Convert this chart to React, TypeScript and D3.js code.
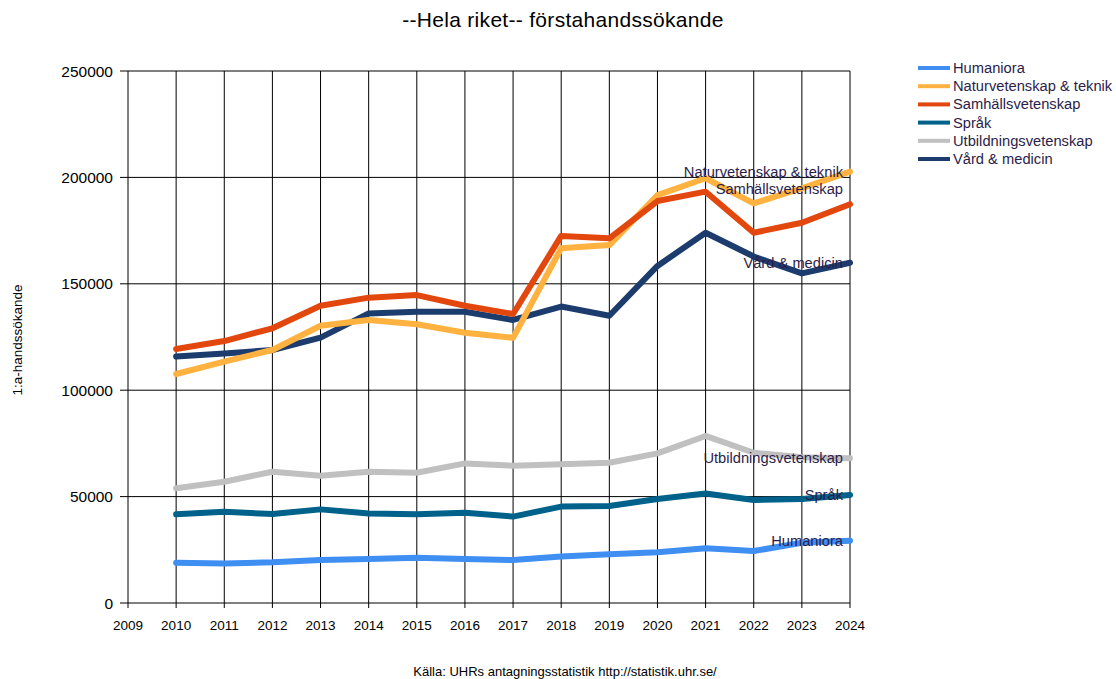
import React from "react";
import * as d3 from "d3";

const years = [2010, 2011, 2012, 2013, 2014, 2015, 2016, 2017, 2018, 2019, 2020, 2021, 2022, 2023, 2024];
const xTicks = [2009, 2010, 2011, 2012, 2013, 2014, 2015, 2016, 2017, 2018, 2019, 2020, 2021, 2022, 2023, 2024];
const yTicks = [0, 50000, 100000, 150000, 200000, 250000];

const seriesNames = ["Humaniora", "Naturvetenskap & teknik", "Samhällsvetenskap", "Språk", "Utbildningsvetenskap", "Vård & medicin"];

const humaniora = [18900, 18600, 19100, 20200, 20700, 21300, 20700, 20200, 21800, 22900, 23800, 25700, 24400, 28300, 29300];
const naturvetenskap = [107600, 113400, 118900, 130300, 133000, 131000, 127000, 124600, 166700, 168200, 191700, 199600, 187800, 194900, 202700];
const samhallsvetenskap = [119400, 123100, 129100, 139700, 143500, 144700, 139700, 135800, 172500, 171400, 188900, 193300, 174000, 178700, 187400];
const sprak = [41700, 42900, 41800, 44000, 42100, 41700, 42400, 40600, 45300, 45600, 48900, 51500, 48400, 48900, 50800];
const utbildning = [53900, 57000, 61700, 59800, 61700, 61200, 65600, 64500, 65200, 65900, 70300, 78500, 70600, 68500, 68000];
const vard = [115800, 117300, 118900, 124700, 136100, 136900, 136900, 133000, 139300, 135000, 158400, 174000, 162800, 154900, 159900];

const seriesValues = [humaniora, naturvetenskap, samhallsvetenskap, sprak, utbildning, vard];
const colors = ["#3f8ef2", "#ffb240", "#e2470e", "#00618a", "#c0c0c0", "#1d3c6e"];
const labelDy = [0, 0, -15, 0, 0, 0];
const drawOrder = [0, 3, 4, 5, 1, 2];

const W = 1116, H = 679;
const left = 128, right = 850, top = 71, bottom = 603;
const textColor = "#2b1d4a";
const font = "'Liberation Sans', Arial, sans-serif";

export default function App() {
  const x = d3.scaleLinear().domain([2009, 2024]).range([left, right]);
  const y = d3.scaleLinear().domain([0, 250000]).range([bottom, top]);
  const line = d3.line<number>().x((_, i) => x(years[i])).y((d) => y(d));

  return (
    <svg width={W} height={H} style={{ position: "absolute", left: 0, top: 0, background: "#fff" }} fontFamily={font}>
      <rect x={0} y={0} width={W} height={H} fill="#fff" />
      <text x={563} y={27} textAnchor="middle" fontSize={21} letterSpacing={0.3} fill="#000">--Hela riket-- förstahandssökande</text>
      {/* grid */}
      {xTicks.map((t) => (
        <line key={"vx" + t} x1={x(t)} x2={x(t)} y1={top} y2={bottom + 5} stroke="#000" strokeWidth={1} />
      ))}
      {yTicks.map((t) => (
        <line key={"hy" + t} x1={left - 8} x2={right} y1={y(t)} y2={y(t)} stroke="#000" strokeWidth={1} />
      ))}
      {yTicks.map((t) => (
        <text key={"yl" + t} x={left - 15} y={y(t) + 5.5} textAnchor="end" fontSize={15.5} fill="#000">{t}</text>
      ))}
      {xTicks.map((t) => (
        <text key={"xl" + t} x={x(t)} y={bottom + 27} textAnchor="middle" fontSize={13.5} fill="#000">{t}</text>
      ))}
      <text transform={`translate(22, ${340}) rotate(-90)`} textAnchor="middle" fontSize={13.5} fill="#000">1:a-handssökande</text>
      {/* lines */}
      {drawOrder.map((si) => (
        <path key={"s" + si} d={line(seriesValues[si]) || ""} fill="none" stroke={colors[si]} strokeWidth={6} strokeLinecap="round" strokeLinejoin="round" />
      ))}
      {seriesNames.map((n, si) => {
        const v = seriesValues[si][years.length - 1];
        return (
          <text key={"el" + si} x={x(2024) - 7} y={y(v) + 5 + labelDy[si]} textAnchor="end" fontSize={14.7} fill={textColor}>{n}</text>
        );
      })}
      {/* legend */}
      {seriesNames.map((n, si) => (
        <g key={"lg" + si} transform={`translate(918, ${68 + si * 18.2})`}>
          <line x1={0} x2={32} y1={0} y2={0} stroke={colors[si]} strokeWidth={4} />
          <text x={35} y={5} fontSize={14.7} fill={textColor}>{n}</text>
        </g>
      ))}
      <text x={565} y={676} textAnchor="middle" fontSize={13} fill="#000">Källa: UHRs antagningsstatistik http://statistik.uhr.se/</text>
    </svg>
  );
}
